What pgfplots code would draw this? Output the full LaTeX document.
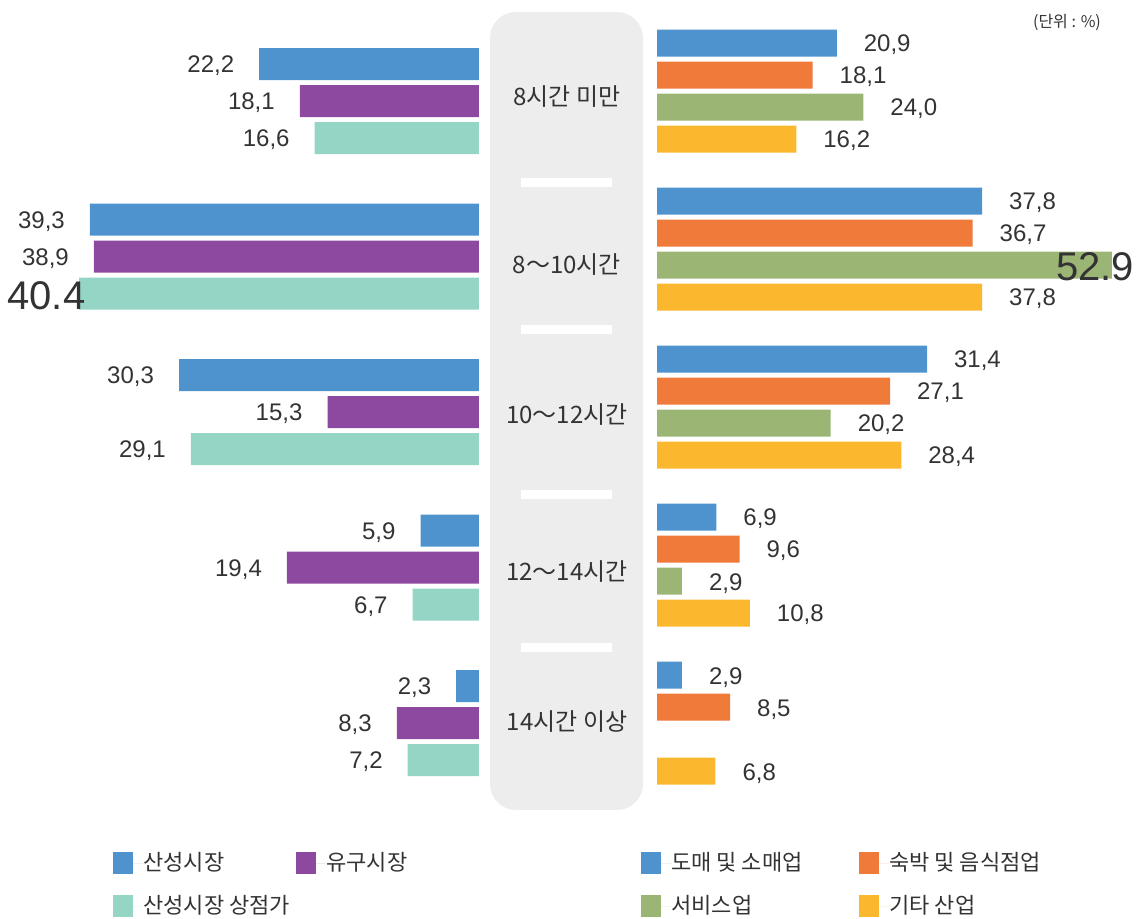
\documentclass[border=0pt]{standalone}
\usepackage{fontspec}
\setmainfont{Liberation Sans}
\newfontfamily\kr{Noto Sans CJK KR}
\usepackage{pgfplots}
\usepackage{pgfplotstable}
\pgfplotsset{compat=1.18}

\definecolor{cblue}{HTML}{4E93CE}
\definecolor{cpurple}{HTML}{8D48A0}
\definecolor{cteal}{HTML}{95D5C5}
\definecolor{corange}{HTML}{F07A3A}
\definecolor{cgreen}{HTML}{9BB574}
\definecolor{cyellow}{HTML}{FBB72E}
\definecolor{boxgray}{HTML}{EDEDED}
\definecolor{textgray}{HTML}{333333}

% left: markets
\pgfplotstableread{
g  a     b     c
0  22.2  18.1  16.6
1  39.3  38.9  40.4
2  30.3  15.3  29.1
3  5.9   19.4  6.7
4  2.3   8.3   7.2
}\lefttab
% right: industries
\pgfplotstableread{
g  a     b     c     d
0  20.9  18.1  24.0  16.2
1  37.8  36.7  52.9  37.8
2  31.4  27.1  20.2  28.4
3  6.9   9.6   2.9   10.8
4  2.9   8.5   nan   6.8
}\righttab

\pgfplotsset{
  half/.style={
    xbar, scale only axis, axis lines=none, clip=false,
    xmin=0, ymin=#1, y dir=reverse,
    height=459.5pt,
    font=\fontsize{12}{14}\selectfont,
    nodes near coords,
    /pgf/number format/.cd, fixed, fixed zerofill, precision=1, use comma, assume math mode=true,
    /pgfplots/.cd,
    legend columns=2,
    legend cell align=left,
    legend image code/.code={\fill[##1,draw=none] (0pt,-5.5pt) rectangle (10pt,5.5pt); \path (0pt,0pt) -- (15pt,0pt);},
  },
}

\begin{document}
\begin{tikzpicture}
\path[use as bounding box] (0pt,0pt) rectangle (568.5pt,-459.5pt);

\begin{scope}[x=0.5pt,y=-0.5pt]
  \fill[boxgray, rounded corners=13pt] (490,12) rectangle (643,810);
  \foreach \yy in {183,330,495,648}
    \fill[white] (521,\yy-4.5) rectangle (612,\yy+4.5);
  \begin{scope}[every node/.style={font=\kr\fontsize{12}{14}\selectfont, text=textgray}]
    \node at (567,97) {8시간 미만};
    \node at (567,265) {8～10시간};
    \node at (567,415) {10～12시간};
    \node at (567,572) {12～14시간};
    \node at (567,722) {14시간 이상};
  \end{scope}
  \node[font=\kr\fontsize{8}{10}\selectfont, text=textgray] at (1067,22) {(단위 : \%)};
\end{scope}

% left half
\begin{axis}[half=-0.6495,
  at={(0pt,0pt)}, anchor=north west,
  width=239.5pt, xmax=48.38, x dir=reverse, ymax=5.2605,
  bar width=16pt,
  every node near coord/.append style={text=textgray, anchor=east, xshift=-9pt, yshift=-1pt},
  coordinate style/.condition={x>40}{font=\fontsize{20}{24}\selectfont, xshift=15.7pt, /pgf/number format/use period},
  legend style={at={(axis description cs:0.2359,0.073)}, anchor=north west, draw=none, fill=none,
    inner sep=0pt, row sep=10.5pt, nodes={inner sep=0pt, font=\kr\fontsize{11}{13}\selectfont, text=textgray}},
]
\addplot[fill=cblue, draw=none, bar shift=18.5pt] table[x=a, y=g] {\lefttab};
\addlegendentry{\makebox[76.5pt][l]{산성시장}}
\addplot[fill=cpurple, draw=none, bar shift=0pt] table[x=b, y=g] {\lefttab};
\addlegendentry{유구시장}
\addplot[fill=cteal, draw=none, bar shift=-18.5pt] table[x=c, y=g] {\lefttab};
\addlegendentry{\makebox[76.5pt][l]{산성시장 상점가}}
\end{axis}

% right half
\begin{axis}[half=-0.5758,
  at={(328.5pt,0pt)}, anchor=north west,
  width=240pt, xmax=55.81, ymax=5.2389,
  bar width=13.5pt,
  every node near coord/.append style={text=textgray, xshift=10pt, yshift=-1pt},
  coordinate style/.condition={x>50}{font=\fontsize{20}{24}\selectfont, xshift=-41.5pt, /pgf/number format/use period},
  legend style={at={(axis description cs:-0.0333,0.073)}, anchor=north west, draw=none, fill=none,
    inner sep=0pt, row sep=10.5pt, nodes={inner sep=0pt, font=\kr\fontsize{11}{13}\selectfont, text=textgray}},
]
\addplot[fill=cblue, draw=none, bar shift=24pt] table[x=a, y=g] {\righttab};
\addlegendentry{\makebox[94pt][l]{도매 및 소매업}}
\addplot[fill=corange, draw=none, bar shift=8pt] table[x=b, y=g] {\righttab};
\addlegendentry{숙박 및 음식점업}
\addplot[fill=cgreen, draw=none, bar shift=-8pt] table[x=c, y=g] {\righttab};
\addlegendentry{\makebox[94pt][l]{서비스업}}
\addplot[fill=cyellow, draw=none, bar shift=-24pt] table[x=d, y=g] {\righttab};
\addlegendentry{기타 산업}
\end{axis}
\end{tikzpicture}
\end{document}
